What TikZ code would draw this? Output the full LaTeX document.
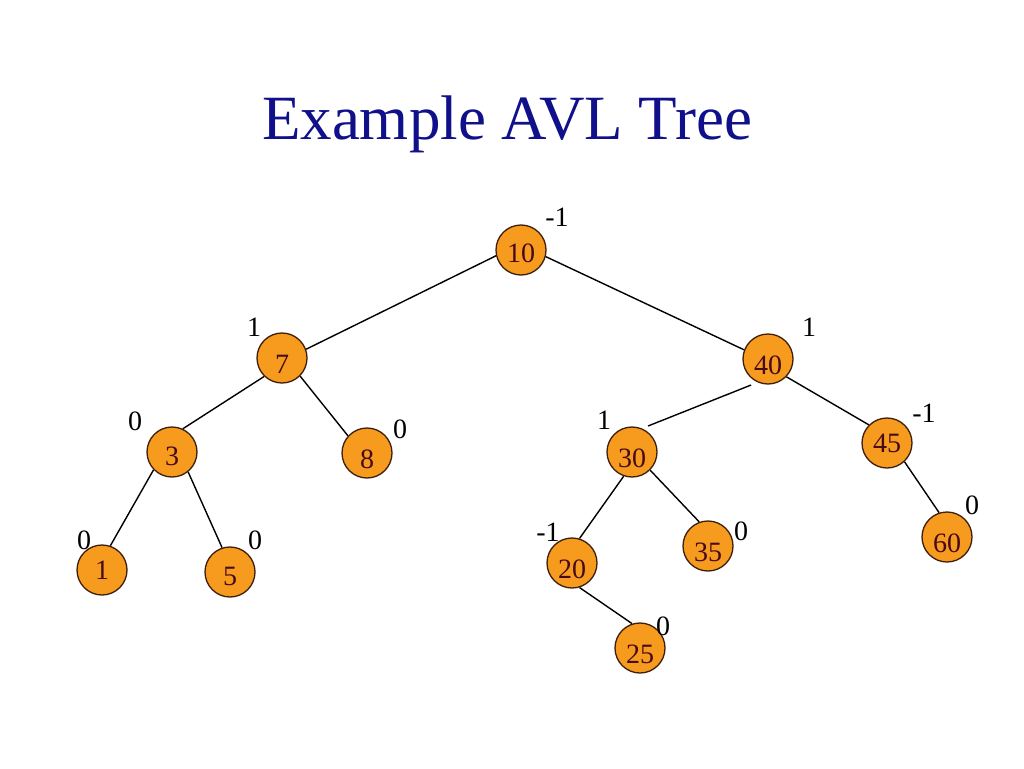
\documentclass[tikz,border=0pt]{standalone}
\usepackage{fontspec}
\setmainfont{Liberation Serif}
\definecolor{nodefill}{RGB}{247,155,30}
\definecolor{nodeline}{RGB}{60,30,10}
\definecolor{numcol}{RGB}{70,10,25}
\definecolor{titlecol}{RGB}{16,16,138}
\newcommand{\lowd}[2]{\raisebox{-#1pt}[0pt][0pt]{#2}}
\begin{document}
\begin{tikzpicture}[x=1pt,y=-1pt,
  avl/.style={circle,draw=nodeline,line width=1.3pt,fill=nodefill,minimum size=50pt,inner sep=0pt,
    font=\fontsize{28}{28}\selectfont,text=numcol},
  bal/.style={inner sep=0pt,font=\fontsize{28}{28}\selectfont,text=black},
  edge/.style={line width=1.4pt,black}]
\useasboundingbox (0,0) rectangle (1024,768);
\fill[white] (0,0) rectangle (1024,768);
\node[text=titlecol,font=\fontsize{63}{63}\selectfont,anchor=base] (title) at (507,139) {Example AVL Tree};
% nodes
\node[avl] (n10) at (521,250) {\lowd{12.5}{10}};
\node[avl] (n7)  at (282,358) {\lowd{15.5}{7}};
\node[avl] (n40) at (768,359) {\lowd{15.5}{40}};
\node[avl] (n3)  at (172,452) {\lowd{13.5}{3}};
\node[avl] (n8)  at (367,453) {\lowd{15}{8}};
\node[avl] (n30) at (632,452) {\lowd{15.5}{30}};
\node[avl] (n45) at (887,443) {\lowd{9.5}{45}};
\node[avl] (n1)  at (102,570) {\lowd{9.5}{1}};
\node[avl] (n5)  at (230,572) {\lowd{13.5}{5}};
\node[avl] (n20) at (572,563) {\lowd{15}{20}};
\node[avl] (n35) at (708,546) {\lowd{15.5}{35}};
\node[avl] (n60) at (947,537) {\lowd{15.5}{60}};
\node[avl] (n25) at (640,648) {\lowd{15}{25}};
% edges
\draw[edge] (n10.193) -- (n7.20);
\draw[edge] (n10.345) -- (n40.159);
\draw[edge] (n7.226) -- (n3.65);
\draw[edge] (n7.315) -- (n8.138);
\draw[edge] (n3.224) -- (n1.71);
\draw[edge] (n3.309) -- (n5.108);
\draw[edge,shorten <=7pt,shorten >=6.5pt] (n40.246) -- (n30.67);
\draw[edge] (n40.316) -- (n45.135);
\draw[edge] (n30.251) -- (n20.73);
\draw[edge] (n30.315) -- (n35.110);
\draw[edge] (n45.313) -- (n60.108);
\draw[edge] (n20.287) -- (n25.108);
% balance factors
\node[bal] (b10) at (557,217) {-1};
\node[bal] (b7)  at (254,327) {1};
\node[bal] (b40) at (809,327) {1};
\node[bal] (b3)  at (135,421) {0};
\node[bal] (b8)  at (400,429) {0};
\node[bal] (b30) at (604,420) {1};
\node[bal] (b45) at (924,413) {-1};
\node[bal] (b1)  at (84,540) {0};
\node[bal] (b5)  at (255,540) {0};
\node[bal] (b20) at (548,532) {-1};
\node[bal] (b35) at (741,531) {0};
\node[bal] (b60) at (972,505) {0};
\node[bal] (b25) at (663,626) {0};
\end{tikzpicture}
\end{document}
